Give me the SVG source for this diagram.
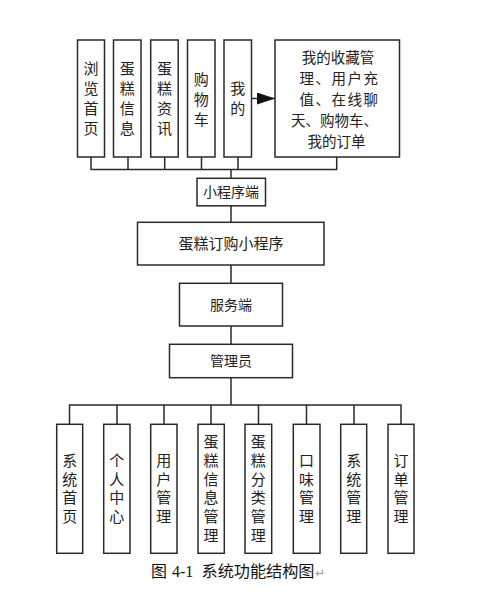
<svg xmlns="http://www.w3.org/2000/svg" width="498" height="592" viewBox="0 0 498 592">
<style>
.box{fill:#fff;stroke:#2a2a2a;stroke-width:1.5}
.ln{fill:none;stroke:#2a2a2a;stroke-width:1.5}
.t{font-family:"Noto Sans CJK SC","Noto Sans",sans-serif;font-size:15px;fill:#222;text-anchor:middle}
.v{writing-mode:vertical-rl;letter-spacing:5px}
.w{writing-mode:vertical-rl;letter-spacing:3.7px}
.m{font-size:14px}
.big{font-size:14.5px}
</style>
<defs>
<marker id="ah" markerWidth="18" markerHeight="12" refX="18" refY="6" orient="auto" markerUnits="userSpaceOnUse">
<path d="M0,0 L18,6 L0,12 Z" fill="#111"/>
</marker>
</defs>
<rect width="498" height="592" fill="#fff"/>
<g id="connectors">
<path class="ln" d="M91,157 V169.5 H336.7 V157 M128,157 V169.5 M164.7,157 V169.5 M201.5,157 V169.5 M238,157 V169.5"/>
<path class="ln" d="M231,169.5 V178 M231,206 V222 M231,265 V283 M231,326 V344 M231,378 V405"/>
<path class="ln" d="M69.5,424 V405 H401 V424 M117,405 V424 M164,405 V424 M211,405 V424 M258.5,405 V424 M306.5,405 V424 M354,405 V424"/>
<line class="ln" x1="252" y1="98.5" x2="275" y2="98.5" stroke-width="2" marker-end="url(#ah)"/>
</g>
<g id="n1"><rect class="box" x="77.5" y="40" width="27" height="117"/>
<text class="t v" x="91" y="101">浏览首页</text></g>
<g id="n2"><rect class="box" x="113.5" y="40" width="27.5" height="117"/>
<text class="t v" x="127.2" y="101">蛋糕信息</text></g>
<g id="n3"><rect class="box" x="150.7" y="40" width="27.5" height="117"/>
<text class="t v" x="164.5" y="101">蛋糕资讯</text></g>
<g id="n4"><rect class="box" x="187.5" y="40" width="27.5" height="117"/>
<text class="t v" x="201.2" y="101.5">购物车</text></g>
<g id="n5"><rect class="box" x="224" y="40" width="27.5" height="117"/>
<text class="t v" x="237.8" y="101">我的</text></g>
<g id="n6"><rect class="box" x="275" y="40" width="124.5" height="117"/>
<text class="t big"><tspan x="338" y="62.5">我的收藏管</tspan><tspan x="339.5" y="83.5" letter-spacing="1.5">理、用户充</tspan><tspan x="339.5" y="104.5" letter-spacing="1.5">值、在线聊</tspan><tspan x="334.5" y="125.5">天、购物车、</tspan><tspan x="336.5" y="146.5">我的订单</tspan></text></g>
<g id="n7"><rect class="box" x="197" y="178.3" width="68.5" height="27.5"/>
<text class="t m" x="231" y="197">小程序端</text></g>
<g id="n8"><rect class="box" x="137.5" y="222.3" width="186.5" height="42.7"/>
<text class="t" x="231" y="249">蛋糕订购小程序</text></g>
<g id="n9"><rect class="box" x="179.5" y="283.3" width="103" height="42.7"/>
<text class="t m" x="231" y="309.5">服务端</text></g>
<g id="n10"><rect class="box" x="169.5" y="344.3" width="123" height="33.4"/>
<text class="t m" x="231" y="366">管理员</text></g>
<g id="b1"><rect class="box" x="56.7" y="424.3" width="26" height="129"/>
<text class="t w" x="69.7" y="490.3">系统首页</text></g>
<g id="b2"><rect class="box" x="103.7" y="424.3" width="26.3" height="129"/>
<text class="t w" x="116.8" y="490.3">个人中心</text></g>
<g id="b3"><rect class="box" x="150.7" y="424.3" width="26.3" height="129"/>
<text class="t w" x="163.8" y="490.3">用户管理</text></g>
<g id="b4"><rect class="box" x="198" y="424.3" width="26.3" height="129"/>
<text class="t w" x="211.1" y="490.3">蛋糕信息管理</text></g>
<g id="b5"><rect class="box" x="245" y="424.3" width="26.7" height="129"/>
<text class="t w" x="258.3" y="490.3">蛋糕分类管理</text></g>
<g id="b6"><rect class="box" x="293.3" y="424.3" width="26.7" height="129"/>
<text class="t w" x="306.6" y="490.3">口味管理</text></g>
<g id="b7"><rect class="box" x="340.7" y="424.3" width="26" height="129"/>
<text class="t w" x="353.7" y="490.3">系统管理</text></g>
<g id="b8"><rect class="box" x="388" y="424.3" width="26" height="129"/>
<text class="t w" x="401" y="490.3">订单管理</text></g>
<g id="caption" font-size="16" fill="#111">
<text x="151" y="577" font-family="Noto Sans CJK SC,sans-serif">图</text>
<text x="172" y="577" font-family="Liberation Serif,serif">4-1</text>
<text x="201.5" y="577" font-family="Noto Sans CJK SC,sans-serif" textLength="113" lengthAdjust="spacingAndGlyphs">系统功能结构图</text>
<text x="315" y="577" font-family="DejaVu Sans,sans-serif" font-size="12" fill="#999">↵</text>
</g>
</svg>
